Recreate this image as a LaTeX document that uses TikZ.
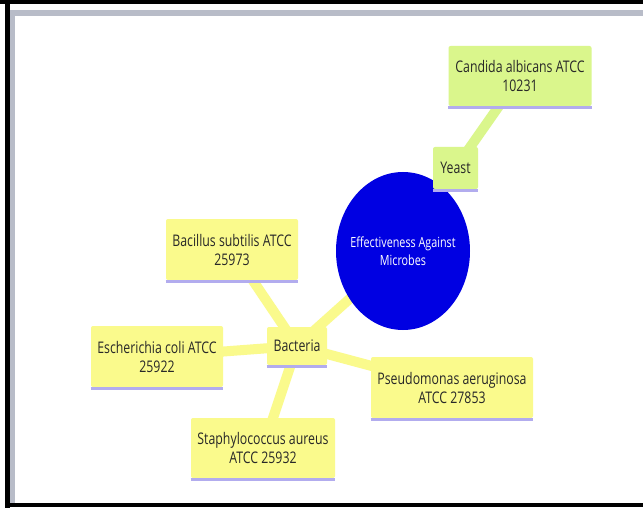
\documentclass[tikz,border=0pt]{standalone}
\usepackage{fontspec}
\setmainfont[FakeStretch=0.77]{Open Sans}
\usetikzlibrary{shapes.geometric,backgrounds}
\definecolor{ybox}{RGB}{250,250,140}
\definecolor{gbox}{RGB}{218,246,140}
\definecolor{uline}{RGB}{178,172,238}
\definecolor{cblue}{RGB}{0,0,226}
\definecolor{txt}{RGB}{40,40,40}
\definecolor{fgray}{RGB}{184,188,200}
\begin{document}
\begin{tikzpicture}[x=1pt,y=-1pt,
  box/.style={fill=#1, rounded corners=2pt, inner sep=0pt, align=center,
    font=\fontsize{16}{19}\selectfont, text=txt},
  link/.style={draw=#1, line width=10pt},
  underl/.style={draw=uline, line width=3pt}]
\useasboundingbox (0,0) rectangle (643,508);
% nodes
\node[ellipse, fill=cblue, minimum width=134pt, minimum height=158pt, inner sep=0pt, outer sep=0pt] (m) at (403,251) {};
\node[text=white, align=center, font=\fontsize{14}{18}\selectfont, inner sep=0pt] (mt) at (m.center)
  {Effectiveness Against\\Microbes};
\node[box=gbox, minimum width=143pt, minimum height=60pt] (c) at (520,76) {Candida albicans ATCC\\10231};
\node[box=gbox, minimum width=45pt, minimum height=42pt] (y) at (455.5,168) {Yeast};
\node[box=ybox, minimum width=132pt, minimum height=61pt] (bs) at (232,249.5) {Bacillus subtilis ATCC\\25973};
\node[box=ybox, minimum width=60pt, minimum height=38pt] (ba) at (297,346) {Bacteria};
\node[box=ybox, minimum width=132pt, minimum height=61pt] (ec) at (157,356.5) {Escherichia coli ATCC\\25922};
\node[box=ybox, minimum width=162pt, minimum height=61pt] (ps) at (452,387.5) {Pseudomonas aeruginosa\\ATCC 27853};
\node[box=ybox, minimum width=144pt, minimum height=60pt] (sa) at (263,448) {Staphylococcus aureus\\ATCC 25932};
\foreach \n in {c,y,bs,ba,ec,ps,sa}
  \draw[underl] ([yshift=-1.5pt]\n.south west) -- ([yshift=-1.5pt]\n.south east);
% connectors (behind)
\begin{scope}[on background layer]
\fill[white] (0,0) rectangle (643,508);
\fill[black] (0,0) rectangle (643,4);
\fill[black] (5,0) rectangle (10,508);
\fill[black] (5,503) rectangle (643,507);
\fill[fgray] (10,10) rectangle (643,16);
\fill[fgray] (10,10) rectangle (15,503);
\draw[link=gbox] (c.center) -- (y.center);
\draw[link=gbox] (y.center) -- (m.center);
\draw[link=ybox] (ba.center) -- (m.center);
\draw[link=ybox] (ba.center) -- (bs.center);
\draw[link=ybox] (ba.center) -- (ec.center);
\draw[link=ybox] (ba.center) -- (ps.center);
\draw[link=ybox] (ba.center) -- (sa.center);
\end{scope}
\end{tikzpicture}
\end{document}
